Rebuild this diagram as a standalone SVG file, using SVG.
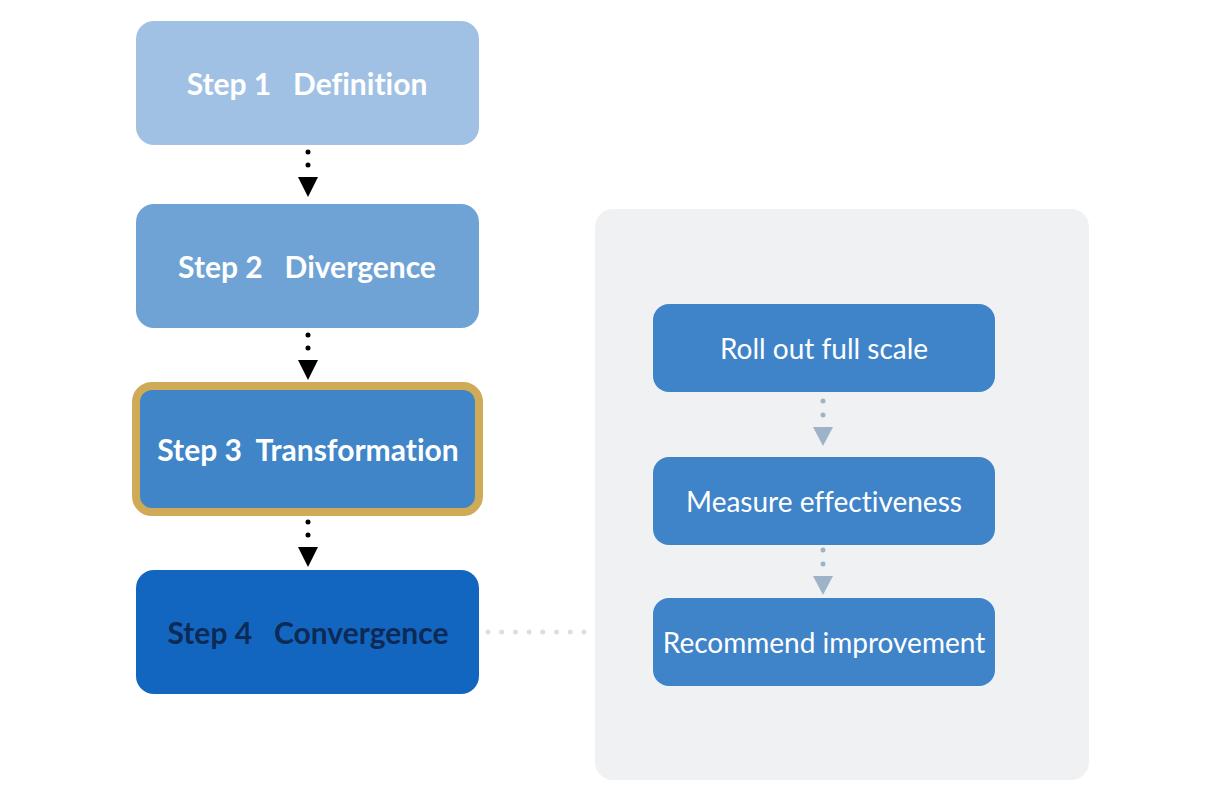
<svg xmlns="http://www.w3.org/2000/svg" width="1222" height="804" viewBox="0 0 1222 804">
<style>
.step{font-family:Lato,"Liberation Sans",sans-serif;font-weight:700;font-size:30px;text-anchor:middle;fill:#ffffff;white-space:pre;font-variant-ligatures:no-common-ligatures}
.sub{font-family:Lato,"Liberation Sans",sans-serif;font-weight:400;font-size:28px;text-anchor:middle;fill:#ffffff;font-variant-ligatures:no-common-ligatures}
.dk{stroke:#000;stroke-width:5;stroke-linecap:round;stroke-dasharray:0 13;fill:none}
.gr{stroke:#9fb3c8;stroke-width:5;stroke-linecap:round;stroke-dasharray:0 14;fill:none}
.lg{stroke:#dddee0;stroke-width:5;stroke-linecap:round;stroke-dasharray:0 13.7;fill:none}
</style>
<rect width="1222" height="804" fill="#ffffff"/>
<g id="group-box">
<rect x="595" y="209" width="494" height="571" rx="18" fill="#f0f1f3"/>
</g>
<g id="connectors">
<path class="dk" d="M308 152 V165.5"/>
<polygon points="298,177 318,177 308,197" fill="#000"/>
<path class="dk" d="M308 335 V348.5"/>
<polygon points="298,360 318,360 308,380" fill="#000"/>
<path class="dk" d="M308 522 V535.5"/>
<polygon points="298,547 318,547 308,567" fill="#000"/>
<path class="gr" d="M823 401 V415.5"/>
<polygon points="813,427 833,427 823,446" fill="#9fb3c8"/>
<path class="gr" d="M823 550 V564.5"/>
<polygon points="813,576 833,576 823,595" fill="#9fb3c8"/>
<path class="lg" d="M488 632 H584"/>
</g>
<g id="step1">
<rect x="136" y="21" width="343" height="124" rx="18" fill="#a0c1e4"/>
<text class="step" x="307" y="95">Step 1   Definition</text>
</g>
<g id="step2">
<rect x="136" y="204" width="343" height="124" rx="18" fill="#6fa3d6"/>
<text class="step" x="307" y="278">Step 2   Divergence</text>
</g>
<g id="step3">
<rect x="136" y="386" width="343" height="126" rx="16" fill="#3f85c8" stroke="#cfab58" stroke-width="8"/>
<text class="step" x="308" y="461">Step 3  Transformation</text>
</g>
<g id="step4">
<rect x="136" y="570" width="343" height="124" rx="18" fill="#1266c0"/>
<text class="step" x="308" y="644" style="fill:#0d2a56">Step 4   Convergence</text>
</g>
<g id="rollout">
<rect x="653" y="304" width="342" height="88" rx="16" fill="#3f84c8"/>
<text class="sub" x="824" y="359">Roll out full scale</text>
</g>
<g id="measure">
<rect x="653" y="457" width="342" height="88" rx="16" fill="#3f84c8"/>
<text class="sub" x="824" y="512">Measure effectiveness</text>
</g>
<g id="recommend">
<rect x="653" y="598" width="342" height="88" rx="16" fill="#3f84c8"/>
<text class="sub" x="824" y="653">Recommend improvement</text>
</g>
</svg>
